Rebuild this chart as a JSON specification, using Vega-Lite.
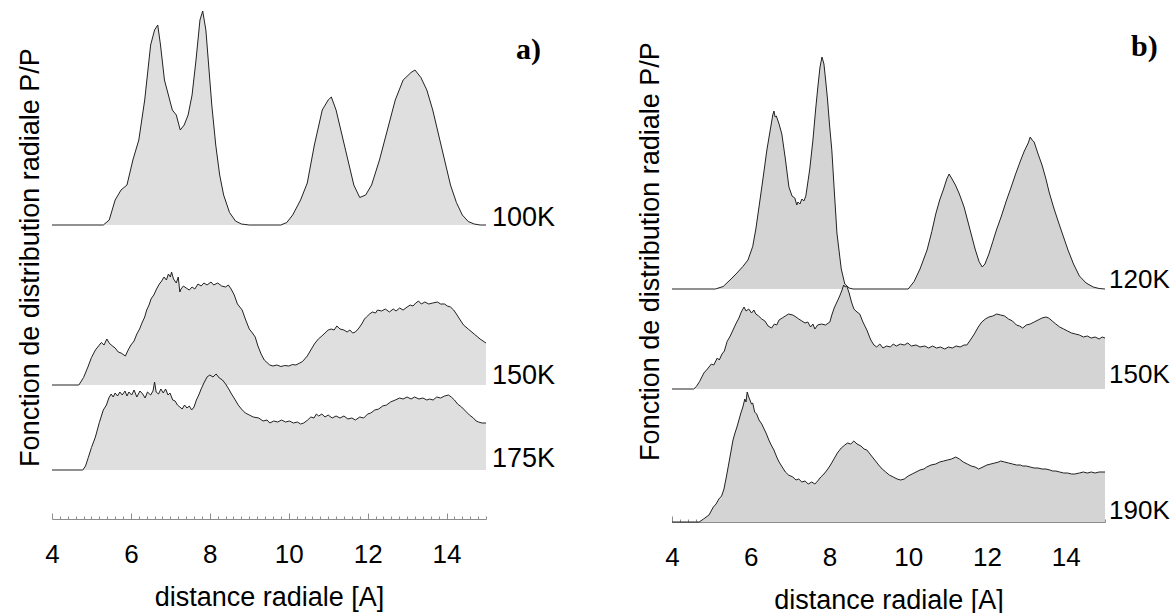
{
 "$schema": "https://vega.github.io/schema/vega-lite/v6.json",
 "padding": {"left": 16, "top": 0, "right": 0, "bottom": 0},
 "background": "white",
 "spacing": 80,
 "config": {
  "view": {"stroke": null},
  "font": "Liberation Sans",
  "axisX": {
   "tickCount": 55,
   "labelExpr": "datum.value % 2 === 0 ? format(datum.value, 'd') : ''",
   "labelOverlap": false,
   "labelFlush": false,
   "tickSize": {"condition": {"test": "datum.value % 2 === 0", "value": -6}, "value": -3},
   "domainColor": "#8c8c8c",
   "tickColor": "#8c8c8c",
   "labelFontSize": 26,
   "labelColor": "black",
   "labelPadding": 28,
   "titleFontSize": 27,
   "titleFontWeight": "normal",
   "titleColor": "black",
   "titlePadding": 14,
   "grid": false,
   "zindex": 1
  },
  "axisY": {
   "domain": false, "ticks": false, "labels": false, "grid": false,
   "titleFontSize": 27, "titleFontWeight": "normal", "titleColor": "black", "titlePadding": 8
  }
 },
 "datasets": {
  "a100": [{"r":4,"g":0},{"r":5.3,"g":0},{"r":5.45,"g":0.1},{"r":5.6,"g":0.5},{"r":5.75,"g":0.7},{"r":5.9,"g":0.8},{"r":6.05,"g":1.3},{"r":6.2,"g":1.7},{"r":6.35,"g":2.5},{"r":6.5,"g":3.6},{"r":6.6,"g":3.9},{"r":6.68,"g":4.0},{"r":6.75,"g":3.6},{"r":6.85,"g":2.9},{"r":6.95,"g":2.6},{"r":7.05,"g":2.3},{"r":7.15,"g":2.2},{"r":7.25,"g":1.9},{"r":7.35,"g":2.0},{"r":7.45,"g":2.2},{"r":7.55,"g":2.6},{"r":7.65,"g":3.3},{"r":7.75,"g":4.1},{"r":7.82,"g":4.28},{"r":7.9,"g":3.9},{"r":7.95,"g":3.4},{"r":8.05,"g":2.4},{"r":8.15,"g":1.6},{"r":8.25,"g":1.0},{"r":8.35,"g":0.6},{"r":8.5,"g":0.25},{"r":8.65,"g":0.08},{"r":8.8,"g":0.02},{"r":9,"g":0},{"r":9.8,"g":0},{"r":9.95,"g":0.05},{"r":10.1,"g":0.2},{"r":10.3,"g":0.5},{"r":10.47,"g":0.84},{"r":10.65,"g":1.6},{"r":10.85,"g":2.3},{"r":11,"g":2.5},{"r":11.08,"g":2.56},{"r":11.2,"g":2.3},{"r":11.35,"g":1.8},{"r":11.5,"g":1.3},{"r":11.65,"g":0.8},{"r":11.8,"g":0.55},{"r":11.95,"g":0.6},{"r":12.1,"g":0.8},{"r":12.3,"g":1.3},{"r":12.5,"g":1.9},{"r":12.7,"g":2.5},{"r":12.9,"g":2.9},{"r":13.1,"g":3.05},{"r":13.2,"g":3.1},{"r":13.35,"g":2.95},{"r":13.5,"g":2.7},{"r":13.65,"g":2.3},{"r":13.8,"g":1.8},{"r":13.95,"g":1.3},{"r":14.1,"g":0.8},{"r":14.25,"g":0.45},{"r":14.4,"g":0.2},{"r":14.55,"g":0.07},{"r":14.7,"g":0.02},{"r":14.85,"g":0},{"r":15,"g":0,"T":"100K"}],
  "a150": [{"r":4,"g":0},{"r":4.68,"g":0},{"r":4.8,"g":0.15},{"r":4.91,"g":0.36},{"r":5.0,"g":0.55},{"r":5.1,"g":0.7},{"r":5.18,"g":0.78},{"r":5.25,"g":0.85},{"r":5.32,"g":0.8},{"r":5.39,"g":0.92},{"r":5.45,"g":0.84},{"r":5.5,"g":0.8},{"r":5.6,"g":0.74},{"r":5.68,"g":0.66},{"r":5.75,"g":0.64},{"r":5.86,"g":0.58},{"r":5.93,"g":0.7},{"r":6.0,"g":0.8},{"r":6.08,"g":0.88},{"r":6.15,"g":1.02},{"r":6.22,"g":1.12},{"r":6.28,"g":1.24},{"r":6.35,"g":1.36},{"r":6.4,"g":1.5},{"r":6.46,"g":1.6},{"r":6.51,"g":1.72},{"r":6.58,"g":1.8},{"r":6.65,"g":1.92},{"r":6.72,"g":2.02},{"r":6.78,"g":2.08},{"r":6.84,"g":2.16},{"r":6.9,"g":2.1},{"r":6.95,"g":2.22},{"r":7.0,"g":2.16},{"r":7.03,"g":2.26},{"r":7.08,"g":2.12},{"r":7.15,"g":2.04},{"r":7.2,"g":2.16},{"r":7.24,"g":1.86},{"r":7.27,"g":1.92},{"r":7.33,"g":1.98},{"r":7.4,"g":1.94},{"r":7.48,"g":1.9},{"r":7.55,"g":1.96},{"r":7.62,"g":1.92},{"r":7.7,"g":2.02},{"r":7.78,"g":1.98},{"r":7.85,"g":2.04},{"r":7.93,"g":2.0},{"r":8.03,"g":2.06},{"r":8.1,"g":2.0},{"r":8.2,"g":2.04},{"r":8.3,"g":1.98},{"r":8.4,"g":1.96},{"r":8.47,"g":2.0},{"r":8.54,"g":1.92},{"r":8.62,"g":1.8},{"r":8.7,"g":1.62},{"r":8.76,"g":1.56},{"r":8.82,"g":1.5},{"r":8.9,"g":1.32},{"r":9.0,"g":1.12},{"r":9.08,"g":1.04},{"r":9.15,"g":0.96},{"r":9.22,"g":0.78},{"r":9.3,"g":0.62},{"r":9.38,"g":0.5},{"r":9.45,"g":0.45},{"r":9.52,"g":0.4},{"r":9.6,"g":0.38},{"r":9.7,"g":0.4},{"r":9.8,"g":0.37},{"r":9.9,"g":0.39},{"r":10.0,"g":0.38},{"r":10.1,"g":0.41},{"r":10.18,"g":0.4},{"r":10.28,"g":0.44},{"r":10.35,"g":0.47},{"r":10.47,"g":0.58},{"r":10.56,"g":0.7},{"r":10.65,"g":0.82},{"r":10.75,"g":0.92},{"r":10.84,"g":0.98},{"r":10.92,"g":1.04},{"r":11.0,"g":1.1},{"r":11.08,"g":1.12},{"r":11.15,"g":1.1},{"r":11.22,"g":1.18},{"r":11.3,"g":1.12},{"r":11.4,"g":1.1},{"r":11.48,"g":1.06},{"r":11.55,"g":1.1},{"r":11.62,"g":1.04},{"r":11.69,"g":1.06},{"r":11.78,"g":1.14},{"r":11.85,"g":1.22},{"r":11.92,"g":1.32},{"r":11.97,"g":1.36},{"r":12.05,"g":1.42},{"r":12.12,"g":1.46},{"r":12.2,"g":1.44},{"r":12.25,"g":1.5},{"r":12.35,"g":1.48},{"r":12.45,"g":1.52},{"r":12.55,"g":1.46},{"r":12.65,"g":1.52},{"r":12.72,"g":1.48},{"r":12.81,"g":1.54},{"r":12.9,"g":1.5},{"r":13.0,"g":1.56},{"r":13.08,"g":1.6},{"r":13.15,"g":1.58},{"r":13.22,"g":1.64},{"r":13.29,"g":1.68},{"r":13.36,"g":1.62},{"r":13.45,"g":1.66},{"r":13.55,"g":1.62},{"r":13.65,"g":1.64},{"r":13.77,"g":1.66},{"r":13.85,"g":1.62},{"r":13.95,"g":1.62},{"r":14.02,"g":1.58},{"r":14.1,"g":1.56},{"r":14.18,"g":1.5},{"r":14.25,"g":1.42},{"r":14.33,"g":1.32},{"r":14.43,"g":1.2},{"r":14.55,"g":1.12},{"r":14.7,"g":1.02},{"r":14.85,"g":0.92},{"r":15,"g":0.84,"T":"150K"}],
  "a175": [{"r":4,"g":0},{"r":4.78,"g":0},{"r":4.85,"g":0.08},{"r":4.92,"g":0.25},{"r":5.0,"g":0.45},{"r":5.1,"g":0.66},{"r":5.2,"g":0.95},{"r":5.3,"g":1.2},{"r":5.38,"g":1.3},{"r":5.44,"g":1.44},{"r":5.5,"g":1.52},{"r":5.55,"g":1.46},{"r":5.6,"g":1.54},{"r":5.66,"g":1.48},{"r":5.72,"g":1.56},{"r":5.78,"g":1.5},{"r":5.85,"g":1.58},{"r":5.9,"g":1.48},{"r":5.95,"g":1.56},{"r":6.02,"g":1.5},{"r":6.08,"g":1.6},{"r":6.15,"g":1.46},{"r":6.23,"g":1.58},{"r":6.3,"g":1.52},{"r":6.36,"g":1.44},{"r":6.42,"g":1.56},{"r":6.5,"g":1.5},{"r":6.56,"g":1.58},{"r":6.6,"g":1.76},{"r":6.64,"g":1.56},{"r":6.7,"g":1.52},{"r":6.76,"g":1.62},{"r":6.82,"g":1.54},{"r":6.88,"g":1.62},{"r":6.94,"g":1.5},{"r":6.99,"g":1.54},{"r":7.06,"g":1.4},{"r":7.12,"g":1.38},{"r":7.18,"g":1.3},{"r":7.24,"g":1.26},{"r":7.3,"g":1.22},{"r":7.36,"g":1.3},{"r":7.42,"g":1.24},{"r":7.48,"g":1.28},{"r":7.54,"g":1.2},{"r":7.6,"g":1.26},{"r":7.66,"g":1.4},{"r":7.72,"g":1.5},{"r":7.78,"g":1.62},{"r":7.85,"g":1.74},{"r":7.93,"g":1.86},{"r":8.0,"g":1.9},{"r":8.08,"g":1.86},{"r":8.16,"g":1.92},{"r":8.24,"g":1.84},{"r":8.32,"g":1.8},{"r":8.4,"g":1.72},{"r":8.48,"g":1.62},{"r":8.55,"g":1.52},{"r":8.63,"g":1.42},{"r":8.72,"g":1.3},{"r":8.8,"g":1.22},{"r":8.9,"g":1.14},{"r":9.0,"g":1.1},{"r":9.1,"g":1.06},{"r":9.24,"g":1.04},{"r":9.35,"g":0.98},{"r":9.45,"g":1.0},{"r":9.52,"g":0.94},{"r":9.62,"g":0.98},{"r":9.72,"g":0.96},{"r":9.82,"g":1.0},{"r":9.92,"g":0.96},{"r":10.02,"g":0.98},{"r":10.12,"g":0.94},{"r":10.22,"g":0.96},{"r":10.3,"g":0.92},{"r":10.38,"g":0.94},{"r":10.48,"g":1.0},{"r":10.56,"g":1.06},{"r":10.64,"g":1.04},{"r":10.7,"g":1.12},{"r":10.76,"g":1.08},{"r":10.84,"g":1.12},{"r":10.92,"g":1.06},{"r":11.0,"g":1.1},{"r":11.1,"g":1.04},{"r":11.2,"g":1.08},{"r":11.3,"g":1.04},{"r":11.4,"g":1.08},{"r":11.5,"g":1.02},{"r":11.6,"g":1.04},{"r":11.69,"g":1.0},{"r":11.8,"g":1.06},{"r":11.9,"g":1.04},{"r":12.0,"g":1.12},{"r":12.08,"g":1.14},{"r":12.18,"g":1.2},{"r":12.28,"g":1.22},{"r":12.38,"g":1.28},{"r":12.48,"g":1.3},{"r":12.58,"g":1.36},{"r":12.7,"g":1.4},{"r":12.81,"g":1.44},{"r":12.9,"g":1.42},{"r":13.0,"g":1.46},{"r":13.1,"g":1.42},{"r":13.19,"g":1.46},{"r":13.3,"g":1.42},{"r":13.4,"g":1.44},{"r":13.5,"g":1.4},{"r":13.57,"g":1.42},{"r":13.66,"g":1.4},{"r":13.75,"g":1.46},{"r":13.85,"g":1.44},{"r":13.95,"g":1.48},{"r":14.05,"g":1.5},{"r":14.12,"g":1.46},{"r":14.2,"g":1.4},{"r":14.28,"g":1.32},{"r":14.38,"g":1.26},{"r":14.48,"g":1.18},{"r":14.58,"g":1.1},{"r":14.68,"g":1.04},{"r":14.75,"g":0.98},{"r":14.81,"g":0.96},{"r":14.9,"g":0.94},{"r":15,"g":0.94,"T":"175K"}],
  "b120": [{"r":4,"g":0},{"r":5.1,"g":0},{"r":5.3,"g":0.05},{"r":5.5,"g":0.2},{"r":5.65,"g":0.32},{"r":5.8,"g":0.45},{"r":5.93,"g":0.58},{"r":6.05,"g":0.85},{"r":6.13,"g":1.2},{"r":6.21,"g":1.64},{"r":6.31,"g":2.2},{"r":6.41,"g":2.78},{"r":6.5,"g":3.2},{"r":6.56,"g":3.48},{"r":6.59,"g":3.56},{"r":6.62,"g":3.44},{"r":6.65,"g":3.46},{"r":6.72,"g":3.3},{"r":6.79,"g":3.1},{"r":6.88,"g":2.6},{"r":6.97,"g":2.04},{"r":7.05,"g":1.86},{"r":7.12,"g":1.82},{"r":7.17,"g":1.68},{"r":7.2,"g":1.74},{"r":7.25,"g":1.7},{"r":7.3,"g":1.8},{"r":7.35,"g":1.76},{"r":7.4,"g":1.86},{"r":7.5,"g":2.4},{"r":7.58,"g":2.98},{"r":7.65,"g":3.6},{"r":7.7,"g":4.0},{"r":7.76,"g":4.44},{"r":7.81,"g":4.64},{"r":7.86,"g":4.5},{"r":7.9,"g":4.2},{"r":7.95,"g":3.8},{"r":8.0,"g":3.3},{"r":8.06,"g":2.78},{"r":8.12,"g":2.0},{"r":8.19,"g":1.12},{"r":8.3,"g":0.4},{"r":8.39,"g":0.1},{"r":8.5,"g":0.02},{"r":8.6,"g":0},{"r":10.0,"g":0},{"r":10.15,"g":0.15},{"r":10.3,"g":0.4},{"r":10.48,"g":0.78},{"r":10.6,"g":1.15},{"r":10.7,"g":1.5},{"r":10.8,"g":1.78},{"r":10.9,"g":2.0},{"r":10.98,"g":2.2},{"r":11.04,"g":2.3},{"r":11.1,"g":2.22},{"r":11.2,"g":2.08},{"r":11.3,"g":1.9},{"r":11.42,"g":1.64},{"r":11.5,"g":1.4},{"r":11.6,"g":1.1},{"r":11.7,"g":0.8},{"r":11.8,"g":0.55},{"r":11.88,"g":0.44},{"r":11.95,"g":0.5},{"r":12.05,"g":0.7},{"r":12.15,"g":0.95},{"r":12.25,"g":1.2},{"r":12.36,"g":1.44},{"r":12.5,"g":1.78},{"r":12.6,"g":2.0},{"r":12.72,"g":2.28},{"r":12.85,"g":2.56},{"r":12.95,"g":2.76},{"r":13.05,"g":2.92},{"r":13.1,"g":3.04},{"r":13.15,"g":2.98},{"r":13.2,"g":2.94},{"r":13.3,"g":2.7},{"r":13.4,"g":2.48},{"r":13.5,"g":2.2},{"r":13.58,"g":1.94},{"r":13.7,"g":1.62},{"r":13.8,"g":1.38},{"r":13.92,"g":1.1},{"r":14.06,"g":0.78},{"r":14.2,"g":0.5},{"r":14.35,"g":0.26},{"r":14.52,"g":0.12},{"r":14.7,"g":0.04},{"r":14.85,"g":0.01},{"r":15,"g":0,"T":"120K"}],
  "b150": [{"r":4,"g":0},{"r":4.55,"g":0},{"r":4.62,"g":0.05},{"r":4.7,"g":0.15},{"r":4.81,"g":0.32},{"r":4.9,"g":0.4},{"r":5.0,"g":0.5},{"r":5.06,"g":0.48},{"r":5.15,"g":0.62},{"r":5.2,"g":0.58},{"r":5.27,"g":0.7},{"r":5.33,"g":0.76},{"r":5.4,"g":0.95},{"r":5.48,"g":1.06},{"r":5.55,"g":1.18},{"r":5.62,"g":1.3},{"r":5.7,"g":1.42},{"r":5.76,"g":1.54},{"r":5.83,"g":1.64},{"r":5.88,"g":1.56},{"r":5.95,"g":1.6},{"r":6.02,"g":1.52},{"r":6.08,"g":1.58},{"r":6.13,"g":1.5},{"r":6.2,"g":1.46},{"r":6.28,"g":1.4},{"r":6.36,"g":1.36},{"r":6.44,"g":1.26},{"r":6.53,"g":1.22},{"r":6.6,"g":1.3},{"r":6.66,"g":1.28},{"r":6.72,"g":1.38},{"r":6.8,"g":1.42},{"r":6.88,"g":1.46},{"r":6.96,"g":1.5},{"r":7.07,"g":1.48},{"r":7.15,"g":1.44},{"r":7.22,"g":1.4},{"r":7.3,"g":1.36},{"r":7.38,"g":1.32},{"r":7.45,"g":1.34},{"r":7.52,"g":1.24},{"r":7.58,"g":1.3},{"r":7.63,"g":1.2},{"r":7.7,"g":1.28},{"r":7.8,"g":1.3},{"r":7.9,"g":1.28},{"r":8.01,"g":1.34},{"r":8.06,"g":1.48},{"r":8.12,"g":1.62},{"r":8.19,"g":1.74},{"r":8.26,"g":1.86},{"r":8.32,"g":1.98},{"r":8.36,"g":2.08},{"r":8.4,"g":2.04},{"r":8.44,"g":2.06},{"r":8.5,"g":1.92},{"r":8.56,"g":1.74},{"r":8.62,"g":1.6},{"r":8.7,"g":1.54},{"r":8.77,"g":1.5},{"r":8.85,"g":1.34},{"r":8.95,"g":1.18},{"r":9.05,"g":0.98},{"r":9.13,"g":0.88},{"r":9.2,"g":0.84},{"r":9.28,"g":0.9},{"r":9.36,"g":0.82},{"r":9.45,"g":0.86},{"r":9.55,"g":0.84},{"r":9.62,"g":0.9},{"r":9.7,"g":0.86},{"r":9.8,"g":0.9},{"r":9.9,"g":0.88},{"r":9.99,"g":0.92},{"r":10.08,"g":0.86},{"r":10.2,"g":0.88},{"r":10.3,"g":0.84},{"r":10.42,"g":0.86},{"r":10.52,"g":0.82},{"r":10.62,"g":0.86},{"r":10.72,"g":0.82},{"r":10.82,"g":0.84},{"r":10.93,"g":0.8},{"r":11.02,"g":0.84},{"r":11.12,"g":0.82},{"r":11.22,"g":0.86},{"r":11.32,"g":0.84},{"r":11.42,"g":0.88},{"r":11.49,"g":0.88},{"r":11.58,"g":0.98},{"r":11.68,"g":1.1},{"r":11.78,"g":1.24},{"r":11.87,"g":1.34},{"r":11.96,"g":1.4},{"r":12.05,"g":1.44},{"r":12.15,"g":1.46},{"r":12.25,"g":1.5},{"r":12.35,"g":1.48},{"r":12.45,"g":1.46},{"r":12.55,"g":1.4},{"r":12.65,"g":1.36},{"r":12.75,"g":1.28},{"r":12.83,"g":1.26},{"r":12.91,"g":1.22},{"r":13.0,"g":1.28},{"r":13.1,"g":1.3},{"r":13.2,"g":1.34},{"r":13.3,"g":1.38},{"r":13.4,"g":1.42},{"r":13.5,"g":1.44},{"r":13.57,"g":1.42},{"r":13.66,"g":1.36},{"r":13.75,"g":1.3},{"r":13.85,"g":1.24},{"r":13.95,"g":1.2},{"r":14.05,"g":1.16},{"r":14.15,"g":1.12},{"r":14.25,"g":1.1},{"r":14.35,"g":1.08},{"r":14.45,"g":1.04},{"r":14.55,"g":1.06},{"r":14.65,"g":1.02},{"r":14.75,"g":1.04},{"r":14.85,"g":1.0},{"r":14.93,"g":1.04},{"r":15,"g":1.02,"T":"150K"}],
  "b190": [{"r":4,"g":0},{"r":4.69,"g":0},{"r":4.8,"g":0.06},{"r":4.94,"g":0.14},{"r":5.05,"g":0.3},{"r":5.12,"g":0.36},{"r":5.19,"g":0.46},{"r":5.26,"g":0.52},{"r":5.32,"g":0.66},{"r":5.38,"g":0.9},{"r":5.45,"g":1.2},{"r":5.5,"g":1.42},{"r":5.55,"g":1.64},{"r":5.6,"g":1.78},{"r":5.65,"g":1.9},{"r":5.7,"g":2.04},{"r":5.75,"g":2.18},{"r":5.8,"g":2.3},{"r":5.85,"g":2.46},{"r":5.88,"g":2.4},{"r":5.91,"g":2.6},{"r":5.95,"g":2.5},{"r":5.98,"g":2.44},{"r":6.02,"g":2.36},{"r":6.05,"g":2.38},{"r":6.1,"g":2.2},{"r":6.15,"g":2.16},{"r":6.21,"g":2.04},{"r":6.28,"g":1.96},{"r":6.34,"g":1.86},{"r":6.4,"g":1.76},{"r":6.46,"g":1.64},{"r":6.52,"g":1.54},{"r":6.59,"g":1.44},{"r":6.66,"g":1.3},{"r":6.72,"g":1.2},{"r":6.8,"g":1.1},{"r":6.88,"g":1.0},{"r":6.96,"g":0.94},{"r":7.07,"g":0.9},{"r":7.15,"g":0.84},{"r":7.22,"g":0.86},{"r":7.3,"g":0.8},{"r":7.38,"g":0.82},{"r":7.46,"g":0.76},{"r":7.55,"g":0.8},{"r":7.63,"g":0.76},{"r":7.7,"g":0.82},{"r":7.78,"g":0.9},{"r":7.86,"g":0.96},{"r":7.94,"g":1.04},{"r":8.01,"g":1.12},{"r":8.1,"g":1.24},{"r":8.2,"g":1.38},{"r":8.3,"g":1.48},{"r":8.39,"g":1.54},{"r":8.46,"g":1.58},{"r":8.54,"g":1.56},{"r":8.62,"g":1.62},{"r":8.7,"g":1.56},{"r":8.8,"g":1.52},{"r":8.88,"g":1.46},{"r":8.95,"g":1.44},{"r":9.05,"g":1.34},{"r":9.15,"g":1.24},{"r":9.25,"g":1.14},{"r":9.34,"g":1.06},{"r":9.43,"g":1.0},{"r":9.52,"g":0.94},{"r":9.62,"g":0.9},{"r":9.72,"g":0.86},{"r":9.81,"g":0.84},{"r":9.9,"g":0.86},{"r":10.0,"g":0.92},{"r":10.1,"g":0.96},{"r":10.2,"g":1.0},{"r":10.3,"g":1.04},{"r":10.4,"g":1.06},{"r":10.47,"g":1.1},{"r":10.58,"g":1.14},{"r":10.7,"g":1.16},{"r":10.8,"g":1.2},{"r":10.9,"g":1.22},{"r":11.0,"g":1.24},{"r":11.1,"g":1.26},{"r":11.21,"g":1.3},{"r":11.3,"g":1.26},{"r":11.4,"g":1.2},{"r":11.5,"g":1.16},{"r":11.6,"g":1.12},{"r":11.7,"g":1.1},{"r":11.79,"g":1.06},{"r":11.9,"g":1.1},{"r":12.0,"g":1.14},{"r":12.1,"g":1.16},{"r":12.2,"g":1.18},{"r":12.3,"g":1.2},{"r":12.35,"g":1.22},{"r":12.45,"g":1.2},{"r":12.55,"g":1.18},{"r":12.65,"g":1.16},{"r":12.75,"g":1.14},{"r":12.85,"g":1.14},{"r":12.91,"g":1.12},{"r":13.0,"g":1.12},{"r":13.1,"g":1.1},{"r":13.2,"g":1.08},{"r":13.3,"g":1.08},{"r":13.4,"g":1.06},{"r":13.5,"g":1.06},{"r":13.6,"g":1.04},{"r":13.67,"g":1.02},{"r":13.75,"g":1.02},{"r":13.85,"g":1.0},{"r":13.95,"g":0.98},{"r":14.05,"g":0.98},{"r":14.15,"g":0.96},{"r":14.23,"g":0.96},{"r":14.35,"g":0.98},{"r":14.45,"g":1.0},{"r":14.55,"g":0.98},{"r":14.65,"g":1.0},{"r":14.75,"g":0.98},{"r":14.85,"g":1.0},{"r":15,"g":1.0,"T":"190K"}]
 },
 "hconcat": [
  {
   "width": 434,
   "height": 519,
   "encoding": {
    "x": {"field": "r", "type": "quantitative", "scale": {"domain": [4, 15], "nice": false, "zero": false}, "title": "distance radiale [A]"}
   },
   "layer": [
    {
     "data": {"name": "a100"},
     "encoding": {"y": {"field": "g", "type": "quantitative", "scale": {"domain": [-5.88, 4.5], "nice": false, "zero": false}, "axis": {"title": "Fonction de distribution radiale P/P", "titleY": 257}}},
     "layer": [
      {"mark": {"type": "area", "color": "#dfdfdf"}, "encoding": {"y2": {"datum": 0}}},
      {"mark": {"type": "line", "color": "#222222", "strokeWidth": 1}},
      {"transform": [{"filter": "datum.r === 15"}], "mark": {"type": "text", "align": "left", "baseline": "alphabetic", "dx": 6, "dy": 1, "fontSize": 27, "font": "Liberation Sans", "color": "black"}, "encoding": {"text": {"field": "T"}, "y": {"datum": 0}}},
      {"transform": [{"filter": "datum.r === 15"}], "mark": {"type": "text", "align": "left", "baseline": "middle", "dx": 30, "fontSize": 30, "font": "Liberation Serif", "fontWeight": "bold", "color": "black"}, "encoding": {"y": {"datum": 3.5}, "text": {"value": "a)"}}}
     ]
    },
    {
     "data": {"name": "a150"},
     "encoding": {"y": {"field": "g", "type": "quantitative", "scale": {"domain": [-2.68, 7.7], "nice": false, "zero": false}, "axis": null}},
     "layer": [
      {"mark": {"type": "area", "color": "#dfdfdf"}, "encoding": {"y2": {"datum": 0}}},
      {"mark": {"type": "line", "color": "#222222", "strokeWidth": 1}},
      {"transform": [{"filter": "datum.r === 15"}], "mark": {"type": "text", "align": "left", "baseline": "alphabetic", "dx": 6, "dy": -1, "fontSize": 27, "font": "Liberation Sans", "color": "black"}, "encoding": {"text": {"field": "T"}, "y": {"datum": 0}}}
     ]
    },
    {
     "data": {"name": "a175"},
     "encoding": {"y": {"field": "g", "type": "quantitative", "scale": {"domain": [-0.98, 9.4], "nice": false, "zero": false}, "axis": null}},
     "layer": [
      {"mark": {"type": "area", "color": "#dfdfdf"}, "encoding": {"y2": {"datum": 0}}},
      {"mark": {"type": "line", "color": "#222222", "strokeWidth": 1}},
      {"transform": [{"filter": "datum.r === 15"}], "mark": {"type": "text", "align": "left", "baseline": "alphabetic", "dx": 6, "dy": -3, "fontSize": 27, "font": "Liberation Sans", "color": "black"}, "encoding": {"text": {"field": "T"}, "y": {"datum": 0}}}
     ]
    }
   ],
   "resolve": {"scale": {"y": "independent"}}
  },
  {
   "width": 433,
   "height": 522,
   "encoding": {
    "x": {"field": "r", "type": "quantitative", "scale": {"domain": [4, 15], "nice": false, "zero": false}, "title": "distance radiale [A]"}
   },
   "layer": [
    {
     "data": {"name": "b120"},
     "encoding": {"y": {"field": "g", "type": "quantitative", "scale": {"domain": [-4.66, 5.78], "nice": false, "zero": false}, "axis": {"title": "Fonction de distribution radiale P/P", "titleY": 251}}},
     "layer": [
      {"mark": {"type": "area", "color": "#d4d4d4"}, "encoding": {"y2": {"datum": 0}}},
      {"mark": {"type": "line", "color": "#222222", "strokeWidth": 1}},
      {"transform": [{"filter": "datum.r === 15"}], "mark": {"type": "text", "align": "left", "baseline": "alphabetic", "dx": 4, "dy": -1, "fontSize": 26, "font": "Liberation Sans", "color": "black"}, "encoding": {"text": {"field": "T"}, "y": {"datum": 0}}},
      {"transform": [{"filter": "datum.r === 15"}], "mark": {"type": "text", "align": "left", "baseline": "middle", "dx": 26, "fontSize": 30, "font": "Liberation Serif", "fontWeight": "bold", "color": "black"}, "encoding": {"y": {"datum": 4.84}, "text": {"value": "b)"}}}
     ]
    },
    {
     "data": {"name": "b150"},
     "encoding": {"y": {"field": "g", "type": "quantitative", "scale": {"domain": [-2.66, 7.78], "nice": false, "zero": false}, "axis": null}},
     "layer": [
      {"mark": {"type": "area", "color": "#d4d4d4"}, "encoding": {"y2": {"datum": 0}}},
      {"mark": {"type": "line", "color": "#222222", "strokeWidth": 1}},
      {"transform": [{"filter": "datum.r === 15"}], "mark": {"type": "text", "align": "left", "baseline": "alphabetic", "dx": 4, "dy": -6, "fontSize": 26, "font": "Liberation Sans", "color": "black"}, "encoding": {"text": {"field": "T"}, "y": {"datum": 0}}}
     ]
    },
    {
     "data": {"name": "b190"},
     "encoding": {"y": {"field": "g", "type": "quantitative", "scale": {"domain": [0, 10.44], "nice": false, "zero": false}, "axis": null}},
     "layer": [
      {"mark": {"type": "area", "color": "#d4d4d4"}, "encoding": {"y2": {"datum": 0}}},
      {"mark": {"type": "line", "color": "#222222", "strokeWidth": 1}},
      {"transform": [{"filter": "datum.r === 15"}], "mark": {"type": "text", "align": "left", "baseline": "alphabetic", "dx": 4, "dy": -3, "fontSize": 26, "font": "Liberation Sans", "color": "black"}, "encoding": {"text": {"field": "T"}, "y": {"datum": 0}}}
     ]
    }
   ],
   "resolve": {"scale": {"y": "independent"}}
  }
 ]
}
